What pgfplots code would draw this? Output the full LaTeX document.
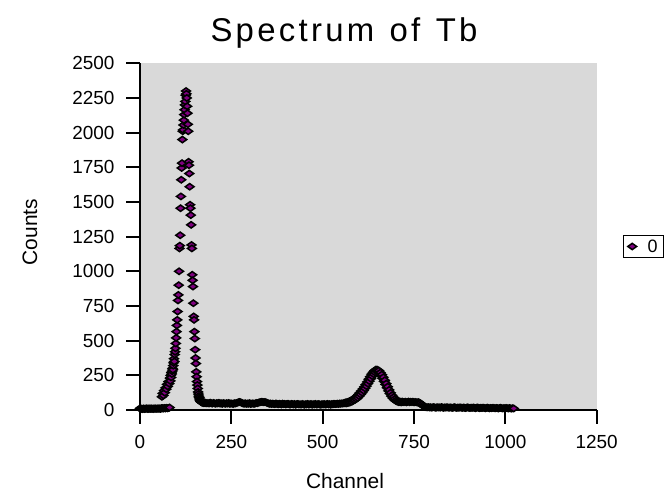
\documentclass[border=0pt]{standalone}
\usepackage{fontspec}
\setmainfont{Liberation Sans}
\usepackage{pgfplots}
\usepackage{pgfplotstable}
\pgfplotsset{compat=1.18}
\definecolor{plotgray}{RGB}{217,217,217}
\definecolor{mkpurple}{RGB}{128,0,128}
\pgfplotstableread{
ch cnt
0 12
2 8
4 10
6 6
8 9
10 11
12 7
14 10
16 8
18 12
20 9
22 7
24 11
26 10
28 8
30 12
32 9
34 10
36 7
38 11
40 9
42 12
44 8
46 10
48 11
50 9
52 12
54 10
56 8
58 13
59 12
60 95
61 14
62 120
63 10
64 105
65 12
66 140
67 15
68 125
69 11
70 160
71 13
72 150
73 16
74 185
75 12
76 170
77 14
78 205
79 15
80 190
81 18
82 230
83 210
84 250
85 235
86 270
87 260
88 280
89 300
90 290
91 320
92 340
93 370
94 350
95 400
96 420
97 445
98 480
99 520
100 565
101 610
102 650
103 710
104 790
105 830
106 900
107 1000
108 1165
109 1185
110 1260
111 1455
112 1540
113 1660
114 1745
115 1780
116 1950
117 2010
118 2020
119 2055
120 2090
121 2130
122 2165
123 2200
124 2225
125 2270
126 2300
127 2280
128 2250
129 2190
130 2140
131 2060
132 2010
133 1790
134 1765
135 1705
136 1610
137 1480
138 1455
139 1405
140 1335
141 1190
142 1165
143 975
144 935
145 890
146 770
147 675
148 650
149 565
150 515
151 435
152 375
153 335
154 275
155 240
156 205
157 180
158 155
159 130
160 115
161 100
162 90
163 80
164 72
165 68
166 62
167 60
168 57
169 55
170 54
172 52
174 50
176 52
178 49
180 52
183 48
186 50
189 47
192 53
195 49
198 46
201 51
204 48
207 45
210 50
213 47
216 52
219 46
222 49
225 44
228 50
231 47
234 45
237 49
240 46
243 51
246 44
249 48
252 46
255 43
258 49
261 47
264 50
267 53
270 56
273 58
276 55
279 51
282 47
285 45
288 49
291 44
294 47
297 45
300 50
303 43
306 46
309 48
312 44
315 47
318 51
321 49
324 53
327 55
330 57
333 59
336 58
339 56
342 58
345 55
348 51
351 48
354 45
357 47
360 43
363 46
366 44
369 42
372 47
375 44
378 41
381 45
384 43
387 40
390 46
393 42
396 44
399 40
402 43
405 45
408 41
411 39
414 44
417 42
420 40
423 43
426 38
429 42
432 44
435 40
438 41
441 39
444 43
447 41
450 38
453 42
456 40
459 44
462 39
465 41
468 43
471 38
474 42
477 40
480 44
483 39
486 41
489 43
492 40
495 38
498 42
501 40
504 43
507 39
510 41
513 44
516 40
519 42
522 38
525 43
528 41
531 45
534 42
537 44
540 46
543 43
546 47
549 45
552 48
555 46
558 50
560 49
562 55
564 47
566 56
568 50
570 60
572 52
574 64
576 56
578 70
580 60
582 76
584 67
586 80
588 72
590 90
592 80
594 100
596 88
598 112
600 100
602 125
604 112
606 138
608 125
610 152
612 140
614 167
616 156
618 184
620 172
622 202
624 190
626 222
628 208
630 240
632 226
634 258
636 244
638 272
640 258
642 284
644 270
646 292
648 282
650 290
652 276
654 284
656 262
658 270
660 246
662 255
664 228
666 236
668 206
670 214
672 184
674 190
676 160
678 168
680 138
682 145
684 118
686 124
688 100
690 106
692 86
694 92
696 74
698 80
700 66
702 70
704 60
706 64
708 57
710 62
712 56
714 60
716 55
718 61
720 57
723 57
726 60
729 55
732 58
735 61
738 56
741 59
744 57
747 60
750 55
753 58
756 56
759 54
762 57
765 52
768 48
771 40
774 32
777 26
780 22
783 20
786 19
789 21
792 18
795 20
798 17
801 19
804 21
807 18
810 16
813 20
816 18
819 19
822 17
825 21
828 18
831 16
834 19
837 17
840 20
843 18
846 16
849 19
852 17
855 15
858 18
861 20
864 17
867 15
870 18
873 16
876 19
879 17
882 15
885 18
888 16
891 14
894 17
897 19
900 16
903 14
906 17
909 15
912 18
915 16
918 13
921 16
924 18
927 15
930 13
933 16
936 14
939 17
942 15
945 12
948 15
951 17
954 14
957 12
960 15
963 13
966 16
969 14
972 12
975 15
978 13
981 11
984 14
987 16
990 13
993 11
996 14
999 12
1002 15
1005 13
1008 11
1011 14
1014 12
1017 10
1020 13
1023 11
}\spectrum
\begin{document}
\begin{tikzpicture}[x=1bp,y=1bp]
\useasboundingbox (0,0) rectangle (664,495);
\begin{axis}[
  at={(140bp,85bp)}, anchor=south west,
  width=456.7bp, height=346.7bp, scale only axis,
  xmin=0, xmax=1250, ymin=0, ymax=2500,
  xtick={0,250,...,1250}, ytick={0,250,...,2500},
  axis x line*=bottom, axis y line*=left,
  axis line style={line width=2bp, -},
  tick style={line width=2bp, black},
  major tick length=14bp, tick align=outside,
  axis background/.style={fill=plotgray},
  ticklabel style={font=\fontsize{19}{22}\selectfont},
  xticklabel style={yshift=-8bp},
  yticklabel style={xshift=-8bp},
  /pgf/number format/assume math mode=true,
  /pgf/number format/1000 sep={},
  scaled ticks=false,
  legend style={at={(axis description cs:1.058,0.4716)}, anchor=west,
    draw=black, line width=1.2bp, fill=white,
    font=\fontsize{18}{21}\selectfont, inner xsep=4bp, inner ysep=2bp},
  legend cell align=left,
]
\addplot[only marks, mark=diamond*, mark size=4.2bp,
  mark options={xscale=1.4, yscale=0.75, draw=black, fill=mkpurple, line width=1.5bp}]
  table[x=ch, y=cnt] {\spectrum};
\addlegendentry{\hspace{9bp}0\hspace{20bp}}
\end{axis}
\node[font=\fontsize{33}{40}\selectfont\addfontfeature{LetterSpace=10}] at (344,462) {Spectrum\hspace{3bp} of\hspace{3bp} Tb};
\node[font=\fontsize{21}{25}\selectfont, rotate=90] at (30,263) {Counts};
\node[font=\fontsize{21}{25}\selectfont] at (345,14) {Channel};
\end{tikzpicture}
\end{document}
